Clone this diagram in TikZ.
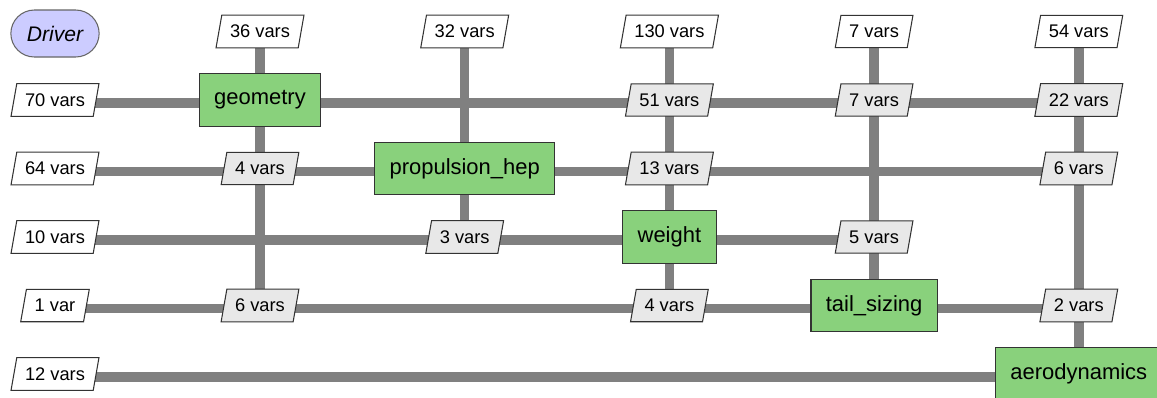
\documentclass[tikz,border=0pt]{standalone}
\usepackage{fontspec}
\setmainfont{Liberation Sans}
\usetikzlibrary{shapes.geometric,shapes.misc,backgrounds}
\definecolor{compgreen}{RGB}{137,209,124}
\definecolor{drvblue}{RGB}{204,204,255}
\definecolor{datagray}{RGB}{232,232,232}
\definecolor{linegray}{RGB}{128,128,128}
\tikzset{
  comp/.style={rectangle,draw=black!80,fill=compgreen,line width=0.7pt,minimum height=1.05cm,inner xsep=0.3cm,font=\fontsize{12.5}{14}\selectfont},
  drv/.style={rounded rectangle,draw=black!60,fill=drvblue,line width=0.6pt,minimum width=2.0cm,minimum height=0.94cm,font=\fontsize{12}{14}\selectfont\itshape},
  data/.style={trapezium,trapezium left angle=80,trapezium right angle=100,draw=black!80,fill=datagray,line width=0.6pt,inner xsep=4.7pt,inner ysep=5.6pt,font=\fontsize{10.4}{12}\selectfont},
  iodata/.style={data,fill=white},
  vflow/.style={draw=linegray,line width=0.19cm},
  hflow/.style={vflow,transform canvas={yshift=-0.06cm}},
}

\begin{document}
\begin{tikzpicture}[x=0.02cm,y=-0.02cm]
\useasboundingbox (0,0) rectangle (1157,397);
\clip (0,0) rectangle (1157,397);
% diagonal
\node[drv] (drv) at (55,33.5) {Driver};
\node[comp] (geo) at (260,100) {geometry};
\node[comp] (prop) at (464.7,168.5) {propulsion\_hep};
\node[comp] (wt) at (669.4,237) {weight};
\node[comp] (tail) at (874.1,305.5) {tail\_sizing};
\node[comp] (aero) at (1078.8,374) {aerodynamics};
% driver row and column
\node[iodata] (x01) at (260,31.5) {36 vars};
\node[iodata] (x02) at (464.7,31.5) {32 vars};
\node[iodata] (x03) at (669.4,31.5) {130 vars};
\node[iodata] (x04) at (874.1,31.5) {7 vars};
\node[iodata] (x05) at (1078.8,31.5) {54 vars};
\node[iodata] (x10) at (55,100) {70 vars};
\node[iodata] (x20) at (55,168.5) {64 vars};
\node[iodata] (x30) at (55,237) {10 vars};
\node[iodata] (x40) at (55,305.5) {1 var};
\node[iodata] (x50) at (55,374) {12 vars};
% couplings
\node[data] (x13) at (669.4,100) {51 vars};
\node[data] (x14) at (874.1,100) {7 vars};
\node[data] (x15) at (1078.8,100) {22 vars};
\node[data] (x21) at (260,168.5) {4 vars};
\node[data] (x23) at (669.4,168.5) {13 vars};
\node[data] (x25) at (1078.8,168.5) {6 vars};
\node[data] (x32) at (464.7,237) {3 vars};
\node[data] (x34) at (874.1,237) {5 vars};
\node[data] (x41) at (260,305.5) {6 vars};
\node[data] (x43) at (669.4,305.5) {4 vars};
\node[data] (x45) at (1078.8,305.5) {2 vars};
\begin{scope}[on background layer]
\draw[hflow] (x10.center) -- (x15.center);
\draw[hflow] (x20.center) -- (x25.center);
\draw[hflow] (x30.center) -- (x34.center);
\draw[hflow] (x40.center) -- (x45.center);
\draw[hflow] (x50.center) -- (aero.center);
\draw[vflow] (x01.center) -- (x41.center);
\draw[vflow] (x02.center) -- (x32.center);
\draw[vflow] (x03.center) -- (x43.center);
\draw[vflow] (x04.center) -- (tail.center);
\draw[vflow] (x05.center) -- (aero.center);
\end{scope}
\end{tikzpicture}
\end{document}
